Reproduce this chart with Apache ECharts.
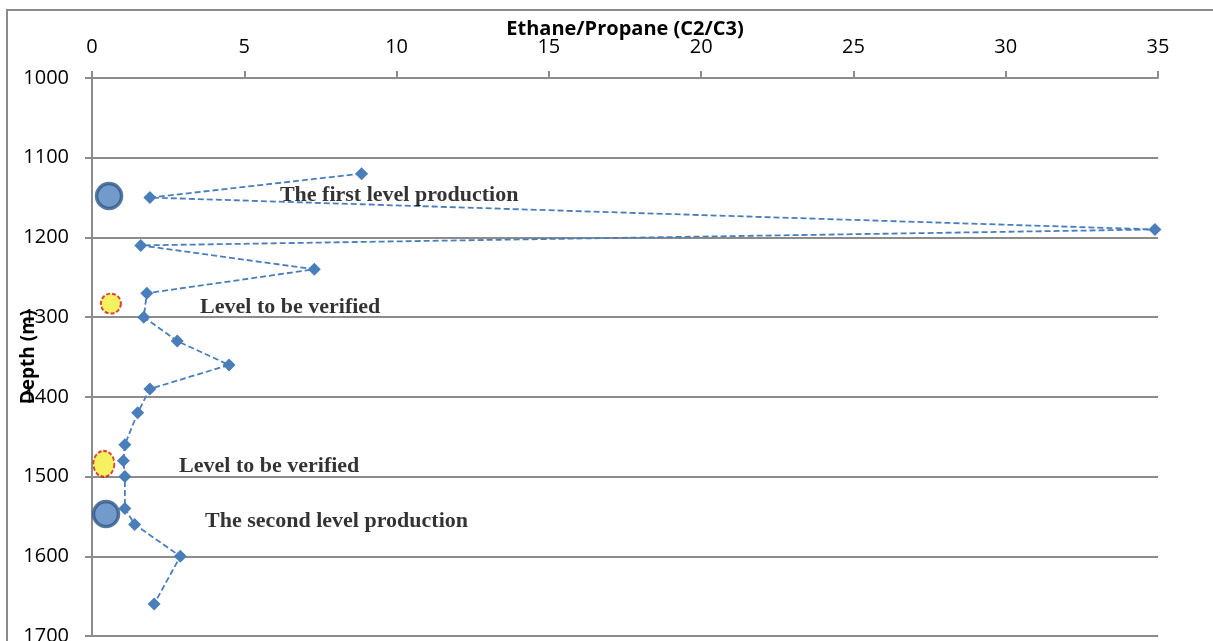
<!DOCTYPE html>
<html>
<head>
<meta charset="utf-8">
<script src="https://cdn.jsdelivr.net/npm/echarts@6/dist/echarts.min.js"></script>
<style>
html,body{margin:0;padding:0;background:#fff;}
#chart{width:1213px;height:641px;}
</style>
</head>
<body>
<div id="chart"></div>
<script>
// Data
const ratio = [8.85, 1.9, 34.9, 1.6, 7.3, 1.8, 1.7, 2.8, 4.5, 1.9, 1.5, 1.08, 1.03, 1.08, 1.08, 1.4, 2.9, 2.04];
const depth = [1120, 1150, 1190, 1210, 1240, 1270, 1300, 1330, 1360, 1390, 1420, 1460, 1480, 1500, 1540, 1560, 1600, 1660];
const prodX = [0.56, 0.46];
const prodDepth = [1148, 1547];
const verX = [0.62, 0.39];
const verDepth = [1283, 1484];
const noteText = ['The first level production', 'Level to be verified', 'Level to be verified', 'The second level production'];
const noteX = [6.17, 3.55, 2.86, 3.71];
const noteDepth = [1147, 1288, 1487, 1556];
const xTicks = [0, 5, 10, 15, 20, 25, 30, 35];
const yTicks = [1000, 1100, 1200, 1300, 1400, 1500, 1600, 1700];

const chart = echarts.init(document.getElementById('chart'));
const gray = '#8c8c8c';
const option = {
  animation: false,
  backgroundColor: '#fff',
  graphic: [{
    type: 'rect', shape: {x: 7, y: 10, width: 1400, height: 800},
    style: {fill: 'none', stroke: '#8a8a8a', lineWidth: 2}, silent: true, z: 0
  }],
  grid: {left: 92, right: 55, top: 78, bottom: 5, containLabel: false, outerBoundsMode: 'none'},
  xAxis: {
    type: 'value', position: 'top', min: xTicks[0], max: xTicks[xTicks.length - 1], interval: 5,
    name: 'Ethane/Propane (C2/C3)', nameLocation: 'middle', nameGap: 39, nameMoveOverlap: false,
    nameTextStyle: {fontFamily: 'Open Sans', fontWeight: 'bold', fontSize: 20, color: '#000'},
    axisLine: {show: true, lineStyle: {color: gray, width: 2}},
    axisTick: {show: true, length: 7, lineStyle: {color: gray, width: 2}},
    axisLabel: {margin: 21, fontFamily: 'Open Sans', fontSize: 20, color: '#000', formatter: v => String(v)},
    splitLine: {show: false}
  },
  yAxis: {
    type: 'value', inverse: true, min: yTicks[0], max: yTicks[yTicks.length - 1], interval: 100,
    name: 'Depth (m)', nameLocation: 'middle', nameGap: 54, nameRotate: 90, nameMoveOverlap: false,
    nameTextStyle: {fontFamily: 'Open Sans', fontWeight: 'bold', fontSize: 19, color: '#000'},
    axisLine: {show: true, lineStyle: {color: gray, width: 2}},
    axisTick: {show: true, length: 7, lineStyle: {color: gray, width: 2}},
    axisLabel: {margin: 23, fontFamily: 'Open Sans', fontSize: 20, color: '#000', formatter: v => String(v)},
    splitLine: {show: true, lineStyle: {color: gray, width: 2}}
  },
  series: [
    {
      type: 'line', clip: false,
      data: ratio.map((v, i) => [v, depth[i]]),
      symbol: 'diamond', symbolSize: 13,
      itemStyle: {color: '#4a7ebb'},
      lineStyle: {color: '#4a7ebb', width: 1.8, type: [6, 3]},
      z: 3
    },
    {
      type: 'scatter', clip: false,
      data: prodX.map((v, i) => [v, prodDepth[i]]),
      symbol: 'circle', symbolSize: 25,
      itemStyle: {color: '#4f81bd', borderColor: '#325887', borderWidth: 3.5},
      z: 4
    },
    {
      type: 'scatter', clip: false,
      data: verX.map((v, i) => ({value: [v, verDepth[i]], symbolSize: i === 0 ? [20, 20] : [21, 26]})),
      symbol: 'circle',
      itemStyle: {color: '#f3ee3a', borderColor: '#d01818', borderWidth: 2, borderType: [4, 2]},
      z: 4
    },
    {
      type: 'scatter', clip: false, silent: true,
      data: noteX.map((v, i) => ({value: [v, noteDepth[i]], name: noteText[i]})),
      symbolSize: 0,
      label: {
        show: true, position: 'right', distance: 0,
        formatter: p => p.name,
        fontFamily: 'Liberation Serif', fontWeight: 'bold', fontSize: 22, color: '#000'
      },
      z: 5
    }
  ]
};
chart.setOption(option);
</script>
</body>
</html>
